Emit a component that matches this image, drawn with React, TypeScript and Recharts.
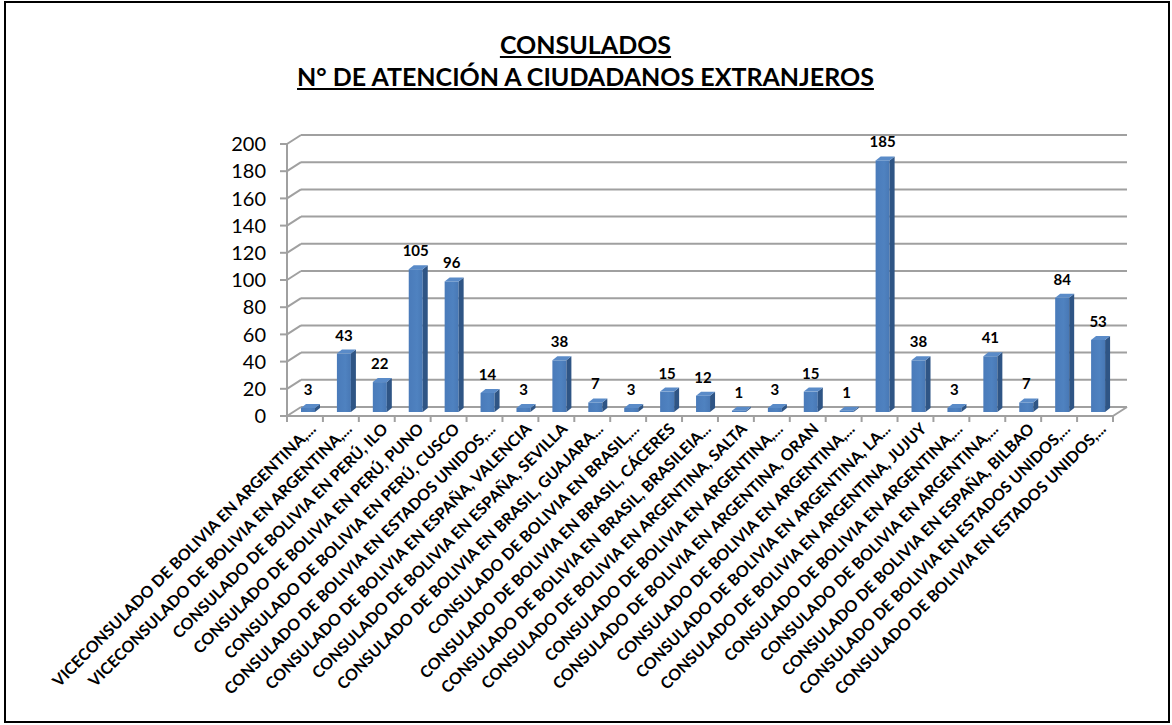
import React from "react";
import { BarChart, Bar, XAxis, YAxis, CartesianGrid, LabelList } from "recharts";

const categories: string[] = [
  "VICECONSULADO DE BOLIVIA EN ARGENTINA,...",
  "VICECONSULADO DE BOLIVIA EN ARGENTINA,...",
  "CONSULADO DE BOLIVIA EN PERÚ, ILO",
  "CONSULADO DE BOLIVIA EN PERÚ, PUNO",
  "CONSULADO DE BOLIVIA EN PERÚ, CUSCO",
  "CONSULADO DE BOLIVIA EN ESTADOS UNIDOS,...",
  "CONSULADO DE BOLIVIA EN ESPAÑA, VALENCIA",
  "CONSULADO DE BOLIVIA EN ESPAÑA, SEVILLA",
  "CONSULADO DE BOLIVIA EN BRASIL, GUAJARA...",
  "CONSULADO DE BOLIVIA EN BRASIL,...",
  "CONSULADO DE BOLIVIA EN BRASIL, CÁCERES",
  "CONSULADO DE BOLIVIA EN BRASIL, BRASILEIA...",
  "CONSULADO DE BOLIVIA EN ARGENTINA, SALTA",
  "CONSULADO DE BOLIVIA EN ARGENTINA,...",
  "CONSULADO DE BOLIVIA EN ARGENTINA, ORAN",
  "CONSULADO DE BOLIVIA EN ARGENTINA,...",
  "CONSULADO DE BOLIVIA EN ARGENTINA, LA...",
  "CONSULADO DE BOLIVIA EN ARGENTINA, JUJUY",
  "CONSULADO DE BOLIVIA EN ARGENTINA,...",
  "CONSULADO DE BOLIVIA EN ARGENTINA,...",
  "CONSULADO DE BOLIVIA EN ESPAÑA, BILBAO",
  "CONSULADO DE BOLIVIA EN ESTADOS UNIDOS,...",
  "CONSULADO DE BOLIVIA EN ESTADOS UNIDOS,...",
];

const atenciones: number[] = [3, 43, 22, 105, 96, 14, 3, 38, 7, 3, 15, 12, 1, 3, 15, 1, 185, 38, 3, 41, 7, 84, 53];

const yTicks: number[] = [0, 20, 40, 60, 80, 100, 120, 140, 160, 180, 200];

const titleLine1 = "CONSULADOS";
const titleLine2 = "N° DE ATENCIÓN A CIUDADANOS EXTRANJEROS";

const data = categories.map((c, i) => ({ id: i, name: c, value: atenciones[i] }));

const W = 1172;
const H = 725;
const M = { top: 144, right: 59, left: 227, bottom: 19 };
const Y_AXIS_W = 60;
const X_AXIS_H = 290;
const PLOT_W = W - M.left - Y_AXIS_W - M.right;
const BAND = PLOT_W / categories.length;
const DX = 14;
const DY = 9;
const GRID = "#A0A0A0";
const FONT = "Lato, 'Open Sans', sans-serif";

const Bar3D = (props: any) => {
  const { x, y, width, height } = props;
  if (x == null || y == null) return null;
  const fx = x + 3;
  const fy = y - 4;
  const h = Math.max(height, 0);
  const sd = 5;
  const td = 4;
  return (
    <g>
      <defs>
        <linearGradient id="frontGrad" x1="0" y1="0" x2="1" y2="0">
          <stop offset="0%" stopColor="#4A7BBA" />
          <stop offset="60%" stopColor="#4F82C0" />
          <stop offset="100%" stopColor="#4878B5" />
        </linearGradient>
      </defs>
      <rect x={fx} y={fy} width={width} height={h} fill="url(#frontGrad)" />
      <polygon
        points={`${fx + width},${fy} ${fx + width + sd},${fy - td} ${fx + width + sd},${fy + h - td} ${fx + width},${fy + h}`}
        fill="#2F5585"
      />
      <polygon
        points={`${fx},${fy} ${fx + sd},${fy - td} ${fx + width + sd},${fy - td} ${fx + width},${fy}`}
        fill="#5A8BC8"
      />
    </g>
  );
};

const ValueLabel = (props: any) => {
  const { x, y, width, value } = props;
  return (
    <text
      x={x + 3 + width / 2}
      y={y - 17}
      textAnchor="middle"
      fontFamily={FONT}
      fontWeight={700}
      fontSize={15}
      fill="#000"
    >
      {value}
    </text>
  );
};

const GridLine = (p: any) => {
  const { x1, y1, x2, y2, key, index } = p;
  const bottom = Math.abs(y1 - (H - M.bottom - X_AXIS_H)) < 1;
  return (
    <g key={key ?? index}>
      <line x1={x1} y1={y1} x2={x1 + DX} y2={y1 - DY} stroke={GRID} strokeWidth={2} />
      <line x1={x1 + DX} y1={y1 - DY} x2={x2 + DX} y2={y2 - DY} stroke={GRID} strokeWidth={2} />
      {bottom && <line x1={x2} y1={y2} x2={x2 + DX} y2={y2 - DY} stroke={GRID} strokeWidth={2} />}
    </g>
  );
};

const YTick = (props: any) => {
  const { x, y, payload } = props;
  return (
    <text x={x} y={y} dy="0.36em" textAnchor="end" fontFamily={FONT} fontSize={20} fill="#000">
      {payload.value}
    </text>
  );
};

const XTick = (props: any) => {
  const { x, y, payload, index } = props;
  const label = categories[payload.value];
  const last = index === categories.length - 1;
  return (
    <g>
      <line x1={x - BAND / 2} y1={y} x2={x - BAND / 2} y2={y + 6} stroke={GRID} strokeWidth={2} />
      {last && <line x1={x + BAND / 2} y1={y} x2={x + BAND / 2} y2={y + 6} stroke={GRID} strokeWidth={2} />}
      <text
        transform={`translate(${x + 12},${y + 14}) rotate(-45)`}
        textAnchor="end"
        fontFamily={FONT}
        fontWeight={700}
        fontSize={16}
        fill="#000"
      >
        {label}
      </text>
    </g>
  );
};

export default function App() {
  return (
    <div style={{ position: "absolute", left: 0, top: 0, width: W, height: H, background: "#fff" }}>
      <div
        style={{
          position: "absolute",
          left: 4,
          top: 1,
          width: 1166,
          height: 722,
          border: "2px solid #000",
          boxSizing: "border-box",
        }}
      />
      <div
        style={{
          position: "absolute",
          left: 0,
          top: 28,
          width: W - 1,
          textAlign: "center",
          fontFamily: FONT,
          fontWeight: 700,
          fontSize: 25,
          lineHeight: "32px",
          textDecoration: "underline",
          color: "#000",
        }}
      >
        <div>{titleLine1}</div>
        <div>{titleLine2}</div>
      </div>
      <div style={{ position: "absolute", left: 0, top: 0 }}>
        <BarChart width={W} height={H} data={data} margin={M} barSize={14}>
          <CartesianGrid vertical={false} horizontal={GridLine as any} />
          <XAxis
            dataKey="id"
            type="category"
            interval={0}
            height={X_AXIS_H}
            tickLine={false}
            tickSize={0}
            tickMargin={0}
            axisLine={{ stroke: GRID, strokeWidth: 2 }}
            tick={<XTick />}
          />
          <YAxis
            width={Y_AXIS_W}
            domain={[0, 200]}
            ticks={yTicks}
            interval={0}
            tickSize={7}
            tickMargin={14}
            axisLine={{ stroke: GRID, strokeWidth: 2 }}
            tickLine={{ stroke: GRID, strokeWidth: 2 }}
            tick={<YTick />}
          />
          <Bar dataKey="value" shape={<Bar3D />} isAnimationActive={false}>
            <LabelList dataKey="value" content={<ValueLabel />} />
          </Bar>
        </BarChart>
      </div>
    </div>
  );
}
